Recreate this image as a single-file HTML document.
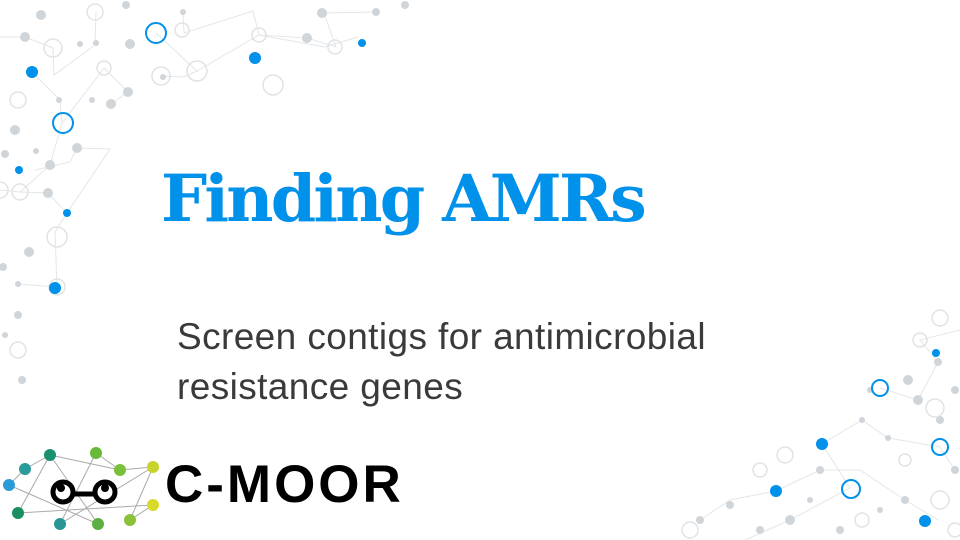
<!DOCTYPE html>
<html><head><meta charset="utf-8"><style>
html,body{margin:0;padding:0;background:#fff}
#slide{position:relative;width:960px;height:540px;overflow:hidden;background:#fff}
svg{position:absolute;left:0;top:0}
#title{position:absolute;left:161px;top:154px;font-family:"DejaVu Serif","Liberation Serif",serif;font-weight:bold;font-size:65px;color:#0091ea;letter-spacing:-2.8px;white-space:nowrap;margin:0;line-height:90px}
#sub{position:absolute;left:177px;top:312px;font-family:"Liberation Sans",sans-serif;font-size:37px;color:#3a3a3a;line-height:50px;margin:0;white-space:nowrap;letter-spacing:0.4px}
#brand{position:absolute;left:165px;top:455px;font-family:"Liberation Sans",sans-serif;font-weight:bold;font-size:53px;color:#000;letter-spacing:3px;line-height:60px}
</style></head><body>
<div id="slide">
<svg width="960" height="540">
<g stroke="#e3e6e8" stroke-width="1" fill="none">
<polyline points="0,37 25,37 53,48 54,75 95,45 96,12"/>
<polyline points="32,72 60,100 62,123 104,68 128,92 111,104"/>
<polyline points="62,123 50,165 20,192 0,190"/>
<polyline points="183,12 184,33 253,11 259,35 325,47 358,37"/>
<polyline points="156,33 197,71 184,77 161,76"/>
<polyline points="197,71 259,35 307,38 336,47 324,13 376,12"/>
<polyline points="20,192 48,193 67,213 55,232 57,287 18,284"/>
<polyline points="67,213 110,149 77,148 70,162 35,170"/>
<polyline points="880,388 918,400 938,362 920,340 960,330"/>
<polyline points="850,488 822,444 862,420 888,438 940,447 955,470"/>
<polyline points="850,488 790,520 745,540"/>
<polyline points="776,491 820,470 860,470 905,500 938,520"/>
<polyline points="700,520 730,500 776,491"/>
</g>
<g fill="#d0d5d9">
<circle cx="41" cy="15" r="5"/><circle cx="25" cy="37" r="5"/><circle cx="126" cy="5" r="4"/><circle cx="96" cy="43" r="3"/><circle cx="80" cy="44" r="3"/><circle cx="130" cy="44" r="5"/><circle cx="307" cy="38" r="5"/><circle cx="322" cy="13" r="5"/><circle cx="376" cy="12" r="4"/><circle cx="405" cy="5" r="4"/><circle cx="183" cy="12" r="3"/><circle cx="163" cy="77" r="3"/><circle cx="128" cy="92" r="5"/><circle cx="111" cy="104" r="5"/><circle cx="59" cy="100" r="3"/><circle cx="92" cy="100" r="3"/><circle cx="15" cy="130" r="5"/><circle cx="5" cy="154" r="4"/><circle cx="77" cy="148" r="5"/><circle cx="48" cy="193" r="5"/><circle cx="36" cy="151" r="3"/><circle cx="50" cy="165" r="5"/><circle cx="29" cy="252" r="5"/><circle cx="3" cy="267" r="4"/><circle cx="18" cy="284" r="3"/><circle cx="18" cy="315" r="4"/><circle cx="5" cy="335" r="3"/><circle cx="22" cy="380" r="4"/>
<circle cx="918" cy="400" r="5"/><circle cx="938" cy="362" r="4"/><circle cx="908" cy="380" r="5"/><circle cx="955" cy="390" r="4"/><circle cx="888" cy="438" r="3"/><circle cx="862" cy="420" r="3"/><circle cx="820" cy="470" r="4"/><circle cx="790" cy="520" r="5"/><circle cx="700" cy="520" r="4"/><circle cx="730" cy="505" r="4"/><circle cx="760" cy="530" r="4"/><circle cx="905" cy="500" r="4"/><circle cx="880" cy="510" r="3"/><circle cx="955" cy="470" r="4"/><circle cx="840" cy="530" r="4"/><circle cx="810" cy="500" r="3"/><circle cx="870" cy="390" r="3"/><circle cx="940" cy="420" r="4"/>
</g>
<g fill="none" stroke="#e0e3e6" stroke-width="1.5">
<circle cx="53" cy="48" r="9"/><circle cx="95" cy="12" r="8"/><circle cx="18" cy="100" r="8"/><circle cx="197" cy="71" r="10"/><circle cx="161" cy="76" r="9"/><circle cx="273" cy="85" r="10"/><circle cx="259" cy="35" r="7"/><circle cx="182" cy="30" r="7"/><circle cx="335" cy="47" r="7"/><circle cx="104" cy="68" r="7"/><circle cx="20" cy="192" r="8"/><circle cx="57" cy="287" r="8"/><circle cx="57" cy="237" r="10"/><circle cx="0" cy="190" r="8"/><circle cx="18" cy="350" r="8"/><circle cx="940" cy="318" r="8"/><circle cx="920" cy="340" r="7"/><circle cx="935" cy="408" r="9"/><circle cx="905" cy="460" r="6"/><circle cx="785" cy="455" r="8"/><circle cx="760" cy="470" r="7"/><circle cx="940" cy="500" r="9"/><circle cx="690" cy="530" r="8"/><circle cx="955" cy="530" r="7"/><circle cx="862" cy="520" r="7"/>
</g>
<g fill="#0091ea">
<circle cx="32" cy="72" r="6"/><circle cx="255" cy="58" r="6"/><circle cx="362" cy="43" r="4"/><circle cx="19" cy="170" r="4"/><circle cx="67" cy="213" r="4"/><circle cx="55" cy="288" r="6"/><circle cx="936" cy="353" r="4"/><circle cx="822" cy="444" r="6"/><circle cx="776" cy="491" r="6"/><circle cx="925" cy="521" r="6"/>
</g>
<g fill="none" stroke="#0091ea" stroke-width="2">
<circle cx="156" cy="33" r="10"/><circle cx="63" cy="123" r="10"/><circle cx="880" cy="388" r="8"/><circle cx="940" cy="447" r="8"/><circle cx="851" cy="489" r="9"/>
</g>
</svg>
<h1 id="title">Finding AMRs</h1>
<p id="sub">Screen contigs for antimicrobial<br>resistance genes</p>
<svg width="170" height="100" style="left:0;top:440px">
<g stroke="#aaa" stroke-width="1">
<line x1="9" y1="45" x2="25" y2="29"/><line x1="25" y1="29" x2="50" y2="15"/><line x1="50" y1="15" x2="120" y2="30"/><line x1="96" y1="13" x2="120" y2="30"/><line x1="120" y1="30" x2="153" y2="27"/><line x1="18" y1="73" x2="50" y2="15"/><line x1="18" y1="73" x2="153" y2="65"/><line x1="60" y1="84" x2="96" y2="13"/><line x1="60" y1="84" x2="153" y2="27"/><line x1="98" y1="84" x2="50" y2="15"/><line x1="130" y1="80" x2="153" y2="27"/><line x1="130" y1="80" x2="153" y2="65"/><line x1="9" y1="45" x2="98" y2="84"/>
</g>
<circle cx="9" cy="45" r="6" fill="#2a9bd5"/><circle cx="25" cy="29" r="6" fill="#2a9a9a"/><circle cx="50" cy="15" r="6" fill="#1a9070"/><circle cx="96" cy="13" r="6" fill="#6ab83a"/><circle cx="120" cy="30" r="6" fill="#7abf3a"/><circle cx="153" cy="27" r="6" fill="#c8d42a"/><circle cx="153" cy="65" r="6" fill="#d9d928"/><circle cx="130" cy="80" r="6" fill="#88c23a"/><circle cx="98" cy="84" r="6" fill="#5ab040"/><circle cx="60" cy="84" r="6" fill="#2a9595"/><circle cx="18" cy="73" r="6" fill="#1a9060"/>
<circle cx="63" cy="52" r="10" fill="#fff" stroke="#000" stroke-width="5"/><circle cx="105" cy="52" r="10" fill="#fff" stroke="#000" stroke-width="5"/><line x1="73" y1="54" x2="95" y2="54" stroke="#000" stroke-width="5"/>
<circle cx="61" cy="48" r="4" fill="#000"/><circle cx="105" cy="48" r="4" fill="#000"/>
</svg>
<div id="brand">C-MOOR</div>
</div>
</body></html>
